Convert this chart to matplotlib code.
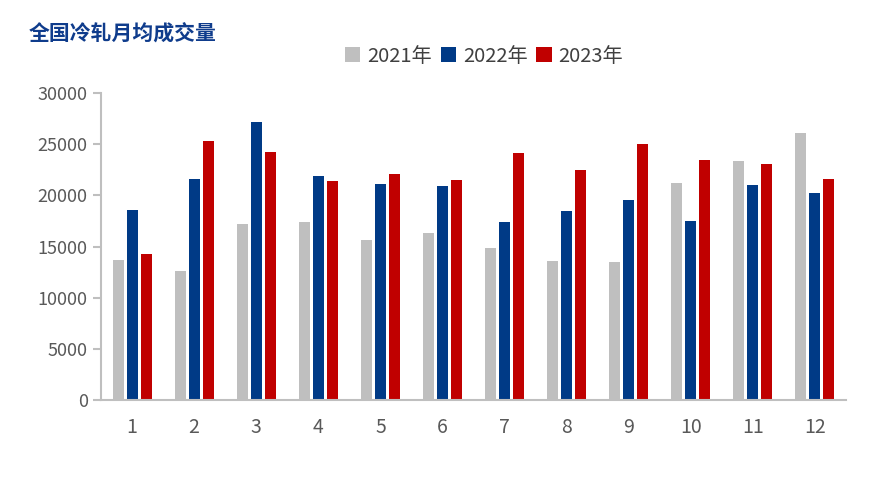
import matplotlib.pyplot as plt
import numpy as np

plt.rcParams['font.family'] = ['Noto Sans CJK SC', 'DejaVu Sans']

months = ['1', '2', '3', '4', '5', '6', '7', '8', '9', '10', '11', '12']
y2021 = [13650, 12570, 17190, 17390, 15620, 16310, 14830, 13560, 13460, 21220, 23380, 26130]
y2022 = [18570, 21600, 27200, 21900, 21120, 20920, 17390, 18470, 19550, 17490, 21020, 20240]
y2023 = [14240, 25340, 24260, 21410, 22100, 21510, 24160, 22500, 25050, 23480, 23080, 21610]
labels = ['2021年', '2022年', '2023年']
colors = ['#BFBFBF', '#003A86', '#C00000']

fig = plt.figure(figsize=(8.73, 5.01), dpi=100)
ax = fig.add_axes([101 / 873, 1 - 400 / 501, 745 / 873, 307 / 501])

x = np.arange(len(months))
w = 0.177
step = 0.226
for k, (vals, lab, c) in enumerate(zip([y2021, y2022, y2023], labels, colors)):
    ax.bar(x + (k - 1) * step, vals, width=w, color=c, label=lab)

ax.set_xlim(-0.5, len(months) - 0.5)
ax.set_ylim(0, 30000)
ax.set_yticks(np.arange(0, 30001, 5000))
ax.set_xticks(x)
ax.set_xticklabels(months)

for s in ['top', 'right']:
    ax.spines[s].set_visible(False)
for s in ['left', 'bottom']:
    ax.spines[s].set_color('#BFBFBF')
    ax.spines[s].set_linewidth(1.5)
ax.tick_params(axis='y', colors='#BFBFBF', length=6, width=1.5, labelcolor='#595959', labelsize=13)
ax.tick_params(axis='x', length=0, pad=12, labelcolor='#595959', labelsize=14)

leg = fig.legend(loc='center', bbox_to_anchor=(484 / 873, 1 - 56 / 501), ncol=3, frameon=False,
                 fontsize=14.5, handlelength=0.75, handleheight=0.75, handletextpad=0.35, columnspacing=0.45)
for t in leg.get_texts():
    t.set_color('#404040')

fig.text(29 / 873, 1 - 34 / 501, '全国冷轧月均成交量', fontsize=15, fontweight='bold',
         color='#0F3C8C', va='center', ha='left')

fig.savefig('out.png', dpi=100)
